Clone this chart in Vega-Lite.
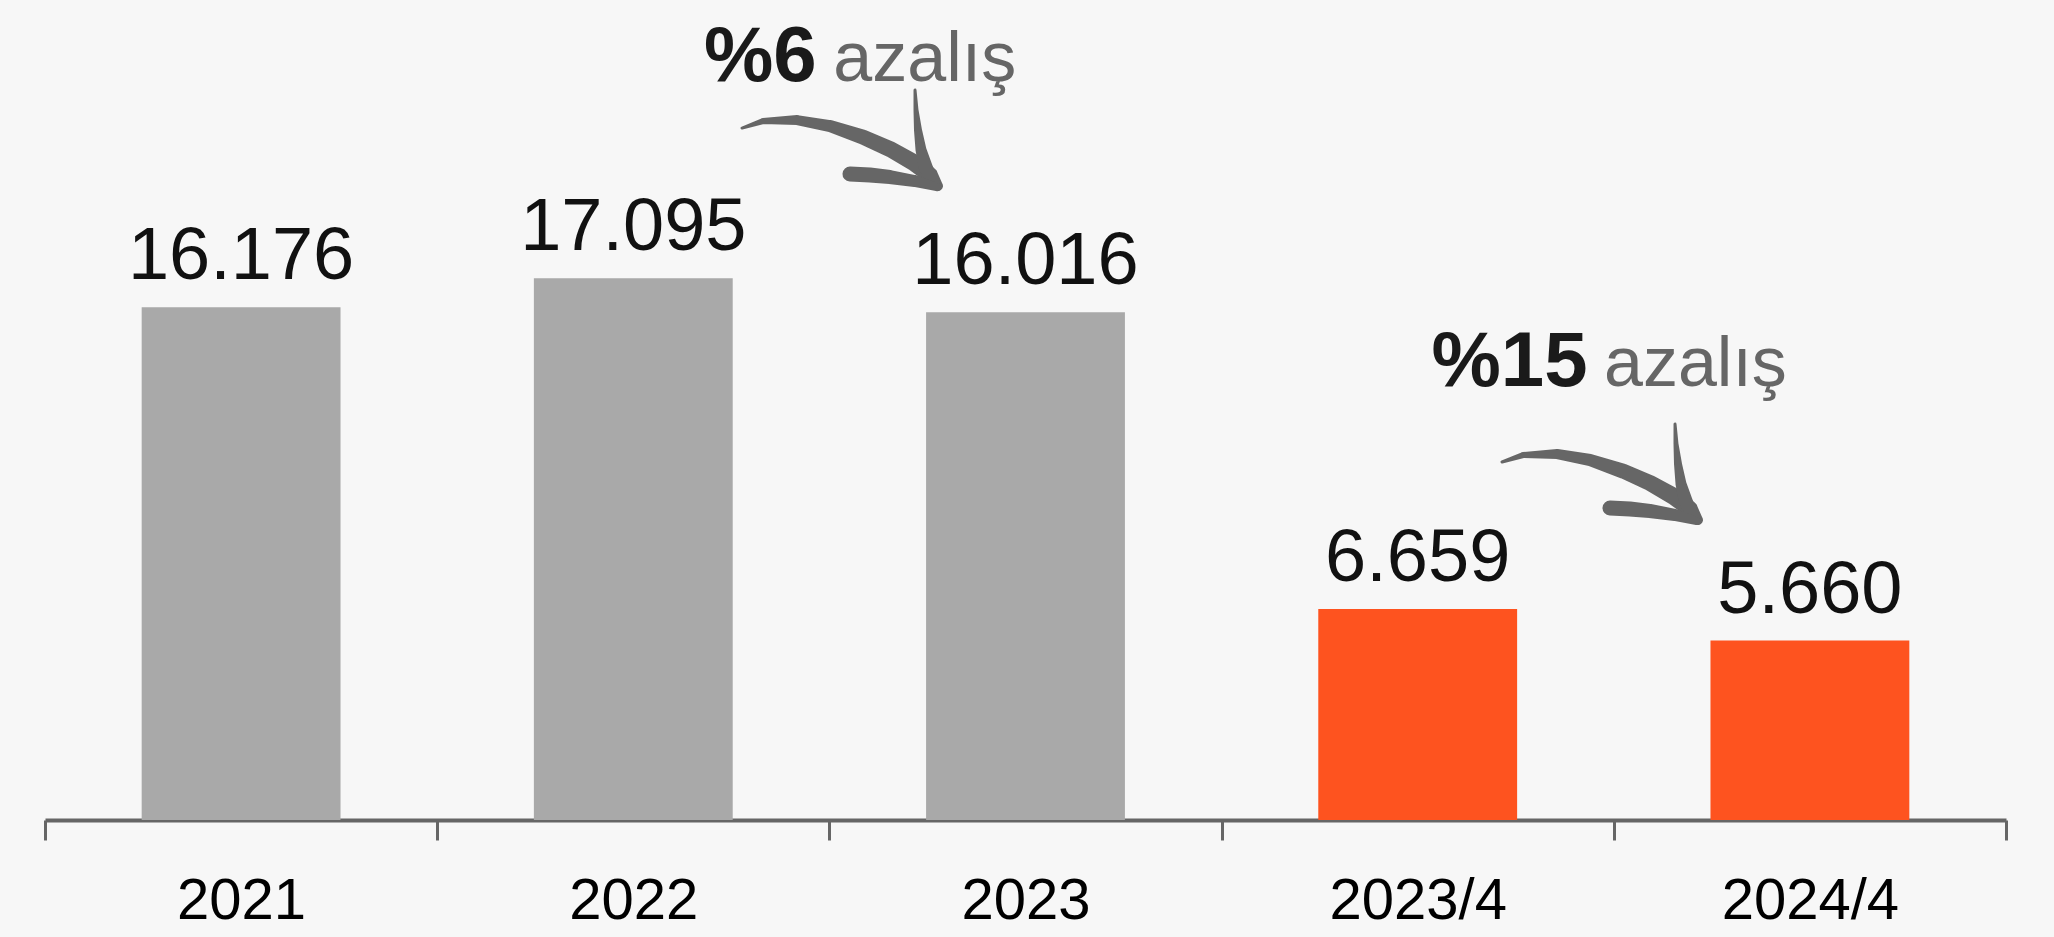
{
  "$schema": "https://vega.github.io/schema/vega-lite/v6.json",
  "width": 1961,
  "height": 820,
  "autosize": {"type": "none"},
  "padding": {"left": 45, "top": 0, "right": 48, "bottom": 117},
  "background": "#f7f7f7",
  "config": {"view": {"stroke": null}, "font": "Liberation Sans, Arial, sans-serif"},
  "datasets": {
    "bars": [
      {"period": "2021", "value": 16176, "label": "16.176", "group": "yıllık"},
      {"period": "2022", "value": 17095, "label": "17.095", "group": "yıllık"},
      {"period": "2023", "value": 16016, "label": "16.016", "group": "yıllık"},
      {"period": "2023/4", "value": 6659, "label": "6.659", "group": "dönem"},
      {"period": "2024/4", "value": 5660, "label": "5.660", "group": "dönem"}
    ],
    "notes": [
      {"ax": 1.680, "ay": 23312, "text": "%6", "kind": "pct"},
      {"ax": 2.010, "ay": 23312, "text": "azalış", "kind": "word"},
      {"ax": 3.535, "ay": 13691, "text": "%15", "kind": "pct"},
      {"ax": 3.975, "ay": 13691, "text": "azalış", "kind": "word"}
    ],
    "arrows": [
      {"part": "a1m", "i": 1, "ax": 1.7772, "ay": 21830, "w": 3},
      {"part": "a1m", "i": 2, "ax": 1.8307, "ay": 22050, "w": 6},
      {"part": "a1m", "i": 3, "ax": 1.9174, "ay": 22082, "w": 10},
      {"part": "a1m", "i": 4, "ax": 2.0015, "ay": 21893, "w": 12},
      {"part": "a1m", "i": 5, "ax": 2.0857, "ay": 21546, "w": 15},
      {"part": "a1m", "i": 6, "ax": 2.1545, "ay": 21167, "w": 16},
      {"part": "a1m", "i": 7, "ax": 2.2132, "ay": 20757, "w": 17},
      {"part": "a1m", "i": 8, "ax": 2.2565, "ay": 20347, "w": 16},
      {"part": "a1m", "i": 9, "ax": 2.2769, "ay": 20000, "w": 10},
      {"part": "a1u", "i": 1, "ax": 2.2183, "ay": 23028, "w": 3},
      {"part": "a1u", "i": 2, "ax": 2.2208, "ay": 22397, "w": 5},
      {"part": "a1u", "i": 3, "ax": 2.2259, "ay": 21767, "w": 8},
      {"part": "a1u", "i": 4, "ax": 2.2336, "ay": 21136, "w": 11},
      {"part": "a1u", "i": 5, "ax": 2.2463, "ay": 20568, "w": 14},
      {"part": "a1u", "i": 6, "ax": 2.2718, "ay": 20032, "w": 10},
      {"part": "a1l", "i": 1, "ax": 2.0525, "ay": 20379, "w": 15},
      {"part": "a1l", "i": 2, "ax": 2.1035, "ay": 20347, "w": 15},
      {"part": "a1l", "i": 3, "ax": 2.1545, "ay": 20284, "w": 14},
      {"part": "a1l", "i": 4, "ax": 2.2183, "ay": 20158, "w": 12},
      {"part": "a1l", "i": 5, "ax": 2.2743, "ay": 19968, "w": 8},
      {"part": "a2m", "i": 1, "ax": 3.7150, "ay": 11294, "w": 3},
      {"part": "a2m", "i": 2, "ax": 3.7685, "ay": 11514, "w": 6},
      {"part": "a2m", "i": 3, "ax": 3.8552, "ay": 11546, "w": 10},
      {"part": "a2m", "i": 4, "ax": 3.9393, "ay": 11357, "w": 12},
      {"part": "a2m", "i": 5, "ax": 4.0235, "ay": 11010, "w": 15},
      {"part": "a2m", "i": 6, "ax": 4.0923, "ay": 10631, "w": 16},
      {"part": "a2m", "i": 7, "ax": 4.1510, "ay": 10221, "w": 17},
      {"part": "a2m", "i": 8, "ax": 4.1943, "ay": 9811, "w": 16},
      {"part": "a2m", "i": 9, "ax": 4.2147, "ay": 9464, "w": 10},
      {"part": "a2u", "i": 1, "ax": 4.1561, "ay": 12492, "w": 3},
      {"part": "a2u", "i": 2, "ax": 4.1586, "ay": 11861, "w": 5},
      {"part": "a2u", "i": 3, "ax": 4.1637, "ay": 11231, "w": 8},
      {"part": "a2u", "i": 4, "ax": 4.1714, "ay": 10600, "w": 11},
      {"part": "a2u", "i": 5, "ax": 4.1841, "ay": 10032, "w": 14},
      {"part": "a2u", "i": 6, "ax": 4.2096, "ay": 9496, "w": 10},
      {"part": "a2l", "i": 1, "ax": 3.9903, "ay": 9843, "w": 15},
      {"part": "a2l", "i": 2, "ax": 4.0413, "ay": 9811, "w": 15},
      {"part": "a2l", "i": 3, "ax": 4.0923, "ay": 9748, "w": 14},
      {"part": "a2l", "i": 4, "ax": 4.1561, "ay": 9622, "w": 12},
      {"part": "a2l", "i": 5, "ax": 4.2121, "ay": 9432, "w": 8}
    ]
  },
  "layer": [
    {
      "data": {"name": "bars"},
      "encoding": {
        "x": {
          "field": "period", "type": "nominal", "sort": null,
          "scale": {"paddingInner": 0, "paddingOuter": 0},
          "axis": {
            "title": null, "tickBand": "extent", "labelAngle": 0, "grid": false,
            "domainColor": "#666666", "domainWidth": 4,
            "tickColor": "#666666", "tickWidth": 3, "tickSize": 20,
            "labelFontSize": 58, "labelColor": "#000000", "labelPadding": 32,
            "labelLimit": 0,
            "labelFont": "Liberation Sans, Arial, sans-serif"
          }
        },
        "y": {"field": "value", "type": "quantitative", "scale": {"domain": [0, 25870], "nice": false}, "axis": null}
      },
      "layer": [
        {
          "mark": {"type": "bar", "width": {"band": 0.507}},
          "encoding": {
            "color": {"field": "group", "type": "nominal", "scale": {"domain": ["yıllık", "dönem"], "range": ["#a9a9a9", "#fe531f"]}, "legend": null}
          }
        },
        {
          "mark": {"type": "text", "dy": -28, "baseline": "alphabetic", "fontSize": 74, "color": "#111111"},
          "encoding": {"text": {"field": "label"}}
        }
      ]
    },
    {
      "data": {"name": "arrows"},
      "mark": {"type": "trail", "color": "#666666"},
      "encoding": {
        "x": {"field": "ax", "type": "quantitative", "scale": {"domain": [0, 5], "nice": false, "zero": false}, "axis": null},
        "y": {"field": "ay", "type": "quantitative", "scale": {"domain": [0, 25870], "nice": false}, "axis": null},
        "size": {"field": "w", "type": "quantitative", "scale": null, "legend": null},
        "detail": {"field": "part"},
        "order": {"field": "i"}
      }
    },
    {
      "data": {"name": "notes"},
      "transform": [{"filter": "datum.kind === 'pct'"}],
      "mark": {"type": "text", "align": "left", "baseline": "alphabetic", "fontSize": 78, "fontWeight": "bold", "color": "#1a1a1a"},
      "encoding": {
        "x": {"field": "ax", "type": "quantitative", "scale": {"domain": [0, 5], "nice": false, "zero": false}, "axis": null},
        "y": {"field": "ay", "type": "quantitative", "scale": {"domain": [0, 25870], "nice": false}, "axis": null},
        "text": {"field": "text"}
      }
    },
    {
      "data": {"name": "notes"},
      "transform": [{"filter": "datum.kind === 'word'"}],
      "mark": {"type": "text", "align": "left", "baseline": "alphabetic", "fontSize": 70, "color": "#666666"},
      "encoding": {
        "x": {"field": "ax", "type": "quantitative", "scale": {"domain": [0, 5], "nice": false, "zero": false}, "axis": null},
        "y": {"field": "ay", "type": "quantitative", "scale": {"domain": [0, 25870], "nice": false}, "axis": null},
        "text": {"field": "text"}
      }
    }
  ],
  "resolve": {"scale": {"x": "independent"}, "axis": {"x": "independent"}}
}
